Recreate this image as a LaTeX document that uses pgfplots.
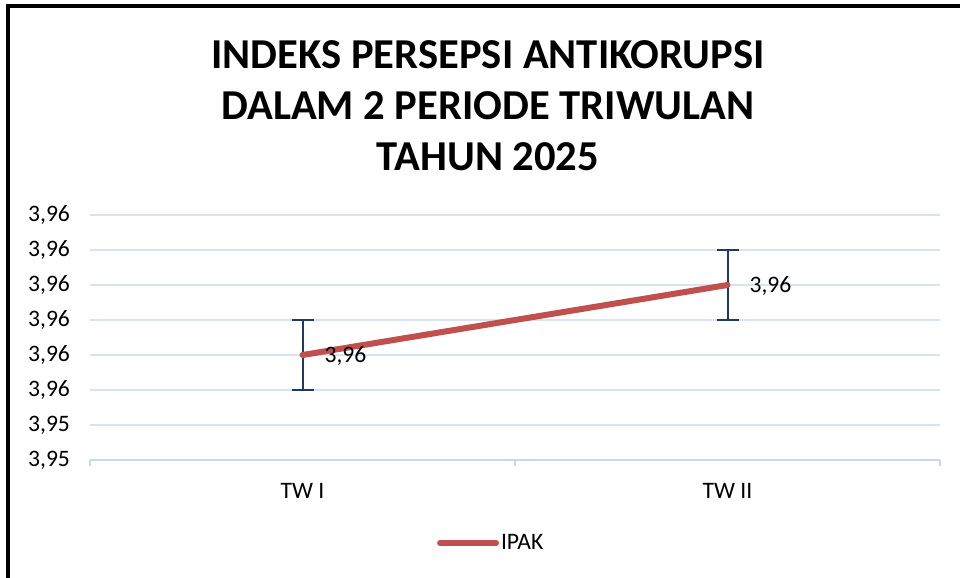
\documentclass[border=0pt]{standalone}
\usepackage{pgfplots}
\pgfplotsset{compat=1.18}
\usepackage{fontspec}
\setmainfont{Carlito}
\definecolor{lineRed}{HTML}{C0504D}
\definecolor{errBlue}{HTML}{1F3864}
\definecolor{gridBlue}{HTML}{D9E3F2}
\definecolor{axisBlue}{HTML}{C9D7EC}
\begin{document}
\begin{tikzpicture}
\useasboundingbox (0pt,0pt) rectangle (480pt,289pt);
\draw[line width=2pt] (4pt,0pt) -- (4pt,286pt);
\draw[line width=2pt] (3pt,285.75pt) -- (480pt,285.75pt);
\node[align=center, font=\fontsize{21.3}{25.5}\selectfont\bfseries] at (244pt,236pt)
  {INDEKS PERSEPSI ANTIKORUPSI\\DALAM 2 PERIODE TRIWULAN\\TAHUN 2025};
\begin{axis}[
  at={(45pt,59pt)}, anchor=south west,
  scale only axis, width=425pt, height=122.5pt,
  xmin=-0.5, xmax=1.5, ymin=3.953, ymax=3.960,
  axis x line*=bottom, axis y line*=left,
  x axis line style={draw=axisBlue, line width=0.8pt, -},
  y axis line style={draw=none},
  xtick={0,1}, xticklabels={TW I, TW II},
  minor xtick={-0.5,0.5,1.5},
  tick align=outside,
  major tick length=0pt, minor tick length=3pt,
  minor x tick style={draw=axisBlue, line width=0.8pt},
  major x tick style={draw=none},
  major y tick style={draw=none},
  xticklabel style={font=\fontsize{11.8}{13}\selectfont, yshift=-8pt},
  ytick={3.953,3.954,3.955,3.956,3.957,3.958,3.959,3.960},
  yticklabels={{3,95},{3,95},{3,96},{3,96},{3,96},{3,96},{3,96},{3,96}},
  yticklabel style={font=\fontsize{11.8}{13}\selectfont, anchor=east, xshift=-6.5pt},
  ymajorgrids, xminorgrids=false, xmajorgrids=false,
  major grid style={draw=gridBlue, line width=0.8pt},
  clip=false,
  legend style={at={(0.472,-0.339)}, anchor=center, draw=none, fill=none,
    font=\fontsize{11.8}{13}\selectfont, inner sep=0pt,
    nodes={inner sep=1pt}},
  legend image code/.code={\draw[line width=3pt, line cap=round, lineRed] (0pt,0pt) -- (28pt,0pt);},
]
\addplot[draw=none, mark=none, forget plot,
  error bars/.cd, y dir=both, y explicit,
  error bar style={errBlue, line width=1pt, line cap=butt, solid},
  error mark options={errBlue, line width=1pt, mark size=5.5pt, rotate=90},
  ] table[x=x, y=y, y error=e] {
x y e
0 3.956 0.001
1 3.958 0.001
};
\addplot[lineRed, line width=3pt, line cap=round, mark=none] table[x=x, y=y] {
x y
0 3.956
1 3.958
};
\addlegendentry{IPAK}
\addplot[draw=none, mark=none, forget plot,
  nodes near coords, point meta=explicit symbolic,
  nodes near coords style={anchor=west, xshift=7.5pt, yshift=-0.5pt, font=\fontsize{11.8}{13}\selectfont, text=black}]
  table[x=x, y=y, meta=l] {
x y l
0 3.956 {3,96}
1 3.958 {3,96}
};
\end{axis}
\end{tikzpicture}
\end{document}
